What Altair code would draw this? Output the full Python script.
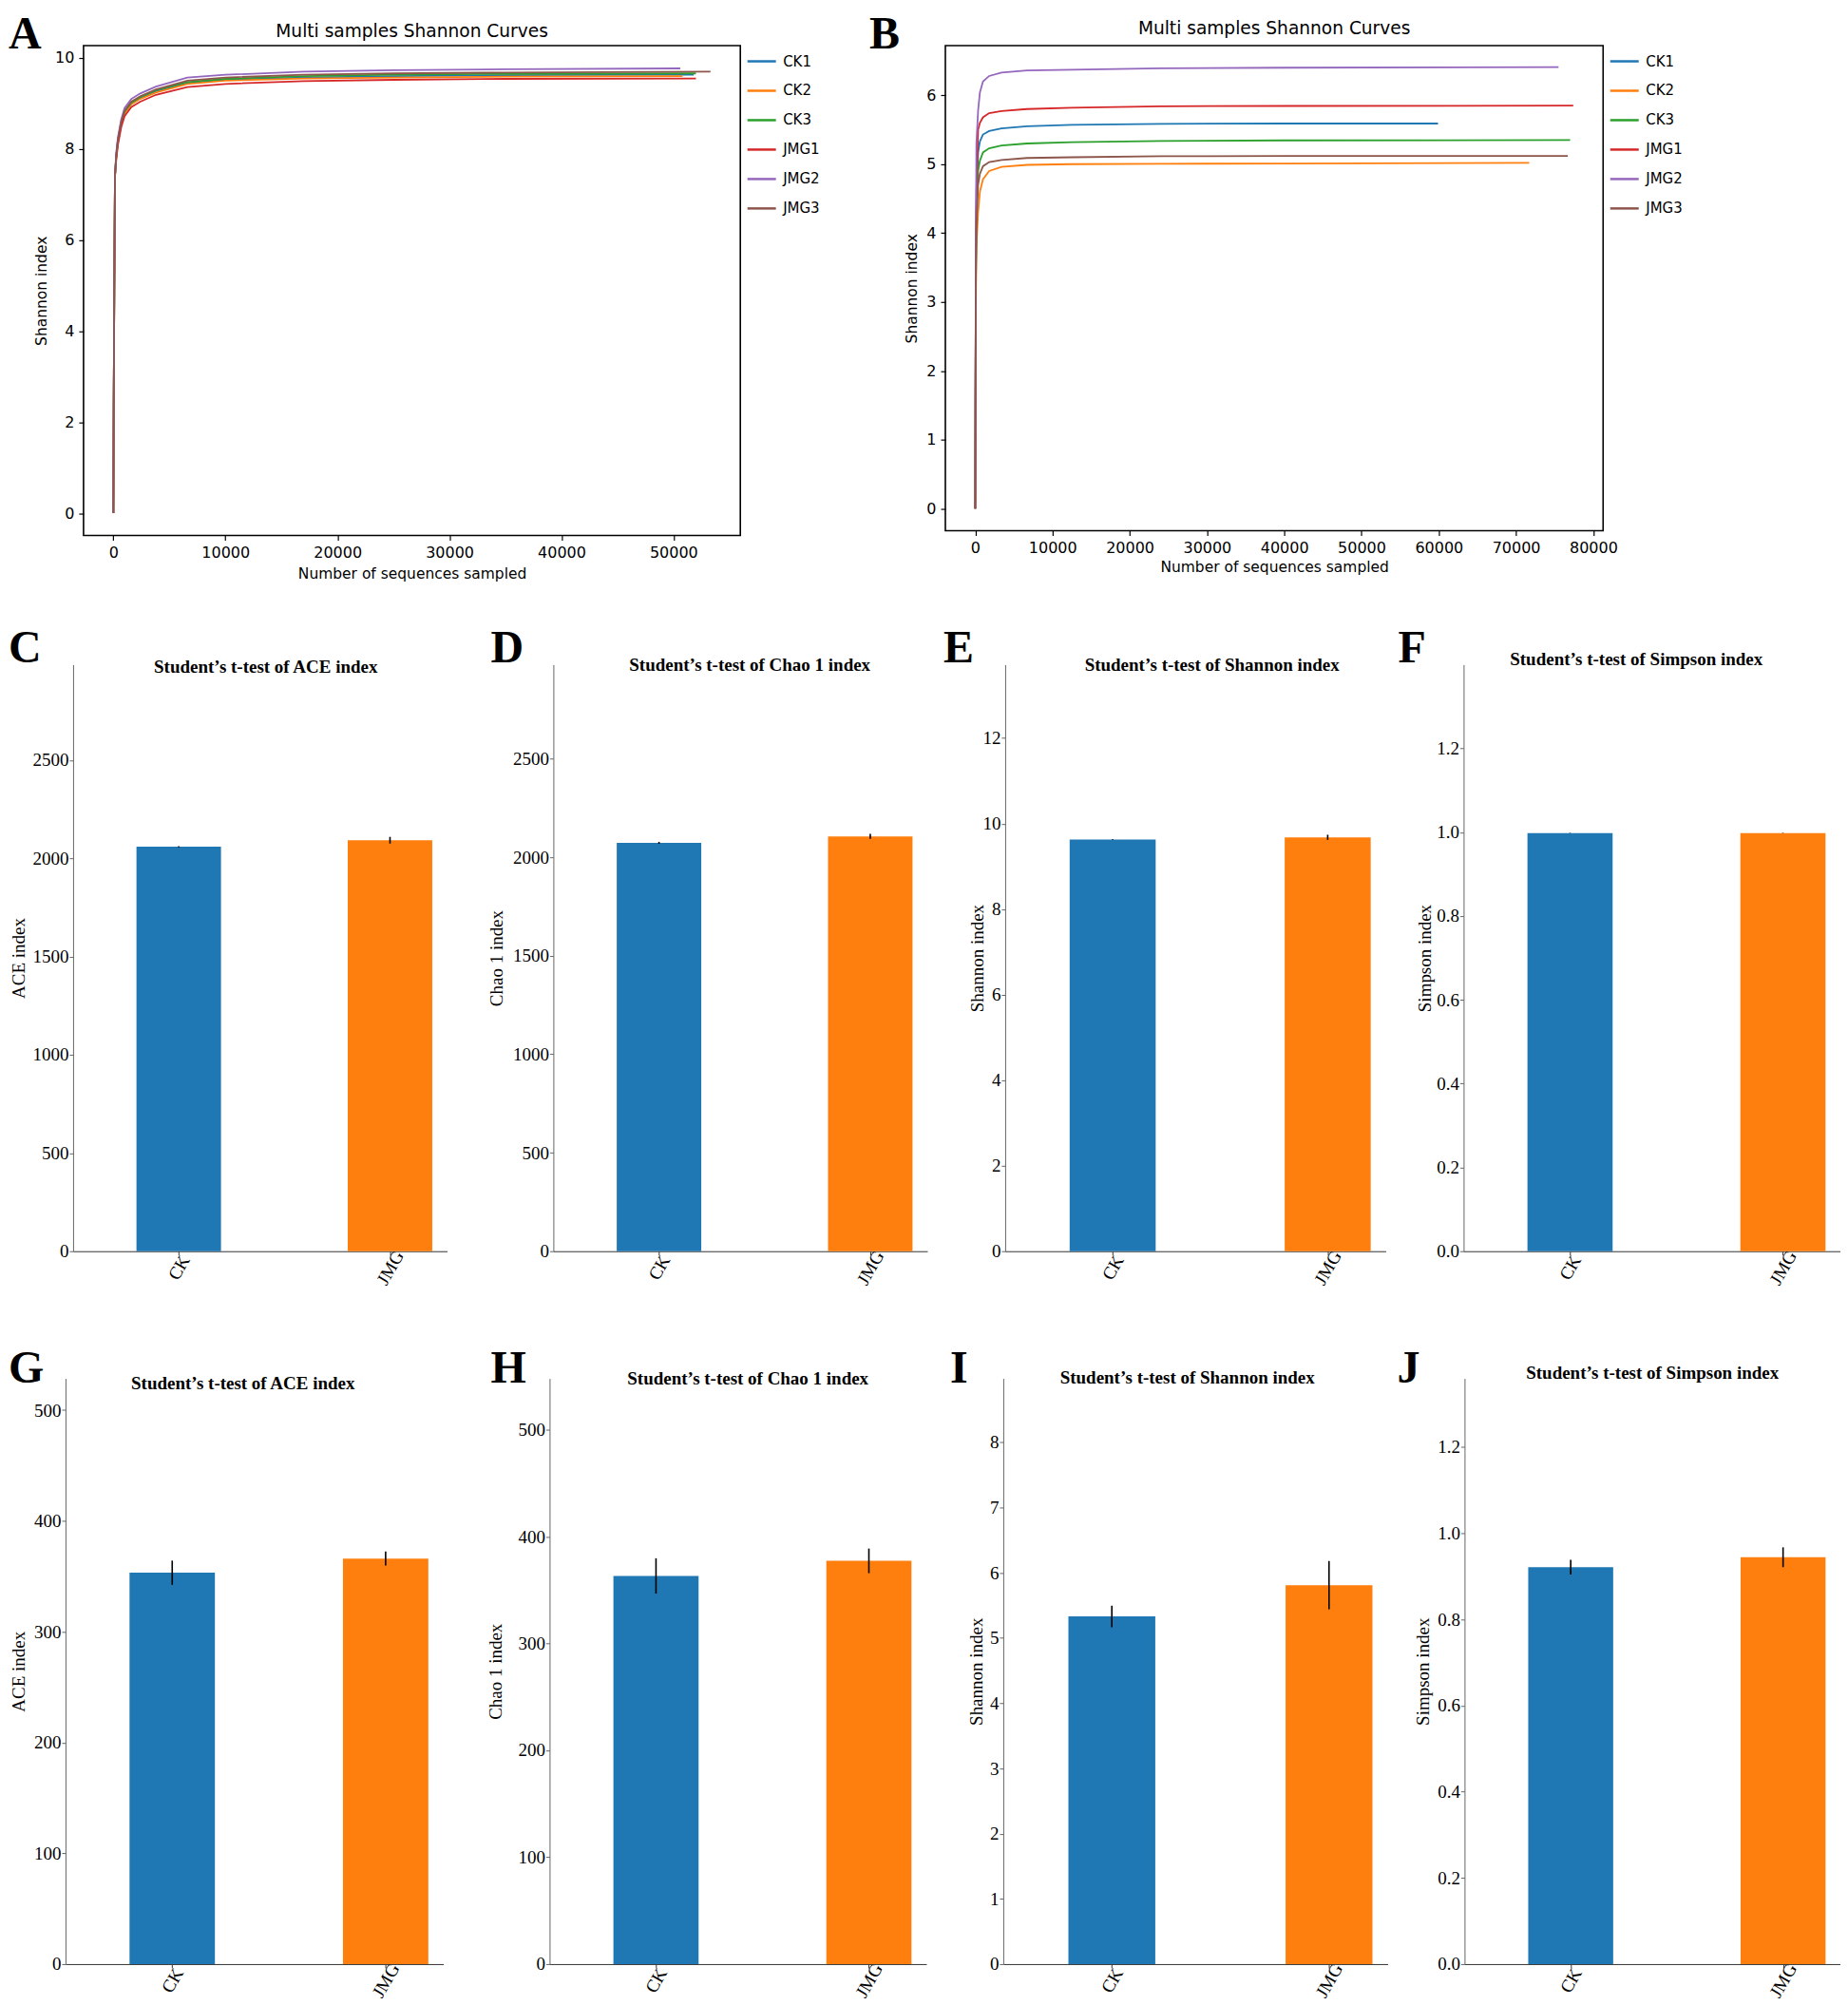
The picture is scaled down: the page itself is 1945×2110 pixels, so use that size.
import json
import altair as alt
import pandas as pd

SANS = "DejaVu Sans"
SERIF = "Liberation Serif"

# ---------------- Shannon rarefaction curves (panels A, B) ----------------
SAMPLES = ["CK1", "CK2", "CK3", "JMG1", "JMG2", "JMG3"]
SAMPLE_COLORS = ["#1f77b4", "#ff7f0e", "#2ca02c", "#d62728", "#9467bd", "#8c564b"]

A_X = [0, 30, 80, 140, 250, 400, 700, 1000, 1600, 2400, 3800, 6600, 10000, 17000, 25000, 35000]
A_END = [51800, 50800, 52000, 52000, 50600, 53300]
A_CK1 = [0, 2.4, 4.9, 7.4, 7.83, 8.16, 8.56, 8.80, 9.00, 9.12, 9.27, 9.45, 9.52, 9.57, 9.60, 9.62, 9.63]
A_CK2 = [0, 2.4, 4.9, 7.4, 7.80, 8.14, 8.54, 8.78, 8.98, 9.10, 9.24, 9.43, 9.50, 9.55, 9.57, 9.59, 9.60]
A_CK3 = [0, 2.4, 4.9, 7.4, 7.85, 8.18, 8.58, 8.82, 9.02, 9.14, 9.29, 9.47, 9.54, 9.60, 9.63, 9.65, 9.66]
A_JMG1 = [0, 2.4, 4.9, 7.4, 7.75, 8.08, 8.48, 8.72, 8.92, 9.04, 9.19, 9.36, 9.43, 9.49, 9.52, 9.54, 9.55]
A_JMG2 = [0, 2.4, 4.9, 7.4, 7.90, 8.25, 8.65, 8.90, 9.10, 9.22, 9.37, 9.57, 9.63, 9.70, 9.73, 9.75, 9.77]
A_JMG3 = [0, 2.4, 4.9, 7.4, 7.85, 8.20, 8.60, 8.84, 9.04, 9.16, 9.31, 9.50, 9.57, 9.63, 9.66, 9.68, 9.70]

B_X = [0, 30, 80, 150, 370, 600, 1000, 1800, 3400, 6700, 12500, 24000, 40000]
B_END = [59900, 71700, 77000, 77400, 75500, 76700]
B_CK1 = [0, 1.5, 3.5, 4.4, 5.17, 5.33, 5.43, 5.48, 5.52, 5.55, 5.57, 5.585, 5.59, 5.59]
B_CK2 = [0, 1.3, 3.0, 3.8, 4.30, 4.60, 4.78, 4.90, 4.96, 4.99, 5.00, 5.005, 5.01, 5.02]
B_CK3 = [0, 1.5, 3.4, 4.3, 4.90, 5.05, 5.17, 5.23, 5.27, 5.30, 5.32, 5.335, 5.345, 5.35]
B_JMG1 = [0, 1.6, 3.6, 4.6, 5.50, 5.60, 5.68, 5.74, 5.77, 5.80, 5.82, 5.84, 5.845, 5.85]
B_JMG2 = [0, 1.8, 3.8, 5.3, 5.78, 6.04, 6.20, 6.28, 6.33, 6.36, 6.37, 6.39, 6.40, 6.41]
B_JMG3 = [0, 1.4, 3.3, 4.1, 4.70, 4.86, 4.97, 5.03, 5.06, 5.09, 5.10, 5.115, 5.12, 5.12]

A_XTICKS = [0, 10000, 20000, 30000, 40000, 50000]
A_YTICKS = [0, 2, 4, 6, 8, 10]
B_XTICKS = [0, 10000, 20000, 30000, 40000, 50000, 60000, 70000, 80000]
B_YTICKS = [0, 1, 2, 3, 4, 5, 6]
CURVE_TITLE = "Multi samples Shannon Curves"
CURVE_XTITLE = "Number of sequences sampled"
CURVE_YTITLE = "Shannon index"

# ---------------- t-test bar panels (C-J) ----------------
GROUPS = ["CK", "JMG"]
BAR_COLORS = ["#1f77b4", "#ff7f0e"]

C_VAL = [2059, 2092]
C_ERR = [3, 17]
D_VAL = [2073, 2106]
D_ERR = [5, 13]
E_VAL = [9.63, 9.68]
E_ERR = [0.01, 0.06]
F_VAL = [0.998, 0.998]
F_ERR = [0.0005, 0.0005]
G_VAL = [353.3, 366.1]
G_ERR = [10.9, 6.4]
H_VAL = [363.2, 377.3]
H_ERR = [16.5, 11.5]
I_VAL = [5.33, 5.81]
I_ERR = [0.165, 0.37]
J_VAL = [0.921, 0.944]
J_ERR = [0.017, 0.023]

TICKS_BIG = [0, 500, 1000, 1500, 2000, 2500]
TICKS_E = [0, 2, 4, 6, 8, 10, 12]
TICKS_SIMPSON = [0.0, 0.2, 0.4, 0.6, 0.8, 1.0, 1.2]
TICKS_G = [0, 100, 200, 300, 400, 500]
TICKS_I = [0, 1, 2, 3, 4, 5, 6, 7, 8]

T_ACE = "Student\u2019s t-test of ACE index"
T_CHAO = "Student\u2019s t-test of Chao 1 index"
T_SHAN = "Student\u2019s t-test of Shannon index"
T_SIMP = "Student\u2019s t-test of Simpson index"


def text_layer(txt, dx, dy, size, weight, font, align="left"):
    return alt.Chart(pd.DataFrame({"t": [txt]})).mark_text(
        font=font, fontSize=size, fontWeight=weight, align=align,
        baseline="alphabetic", color="black"
    ).encode(text="t:N", x=alt.value(dx), y=alt.value(dy))


def curve_panel(xs_base, ends, ys_list, xdom, ydom, xticks, yticks, W, H, cfg):
    rows = []
    for s, end, ys in zip(SAMPLES, ends, ys_list):
        for x, y in zip(xs_base + [end], ys):
            rows.append({"sample": s, "x": x, "y": y})
    df = pd.DataFrame(rows)
    common = dict(labelFont=SANS, labelFontSize=16, labelColor="black",
                  titleFont=SANS, titleFontSize=15.5, titleFontWeight="normal",
                  titleColor="black", domain=False, grid=False, tickColor="black",
                  tickSize=5, tickWidth=1.2, labelPadding=5)
    lines = alt.Chart(df).mark_line(strokeWidth=1.8).encode(
        x=alt.X("x:Q", scale=alt.Scale(domain=xdom, nice=False, zero=False),
                axis=alt.Axis(values=xticks, format="d", title=CURVE_XTITLE,
                              titleX=W / 2, titleY=cfg["xty"], titleAlign="center",
                              titleBaseline="middle", **common)),
        y=alt.Y("y:Q", scale=alt.Scale(domain=ydom, nice=False, zero=False),
                axis=alt.Axis(values=yticks, format="d", title=CURVE_YTITLE,
                              titleX=cfg["ytx"], titleY=H / 2, titleAngle=270,
                              titleAlign="center", titleBaseline="middle", **common)),
        color=alt.Color("sample:N", scale=alt.Scale(domain=SAMPLES, range=SAMPLE_COLORS),
                        legend=alt.Legend(title=None, orient="right", offset=6, padding=0,
                                          symbolType="stroke", symbolSize=900,
                                          symbolStrokeWidth=2.5, labelFont=SANS,
                                          labelFontSize=15, labelColor="black",
                                          labelOffset=6, rowPadding=6)),
    )
    letter = text_layer(cfg["letter"], cfg["lx"], cfg["ly"], 48, "bold", SERIF)
    title = text_layer(CURVE_TITLE, W / 2, cfg["ty"], 18.6, "normal", SANS, align="center")
    return alt.layer(lines, letter, title).properties(
        width=W, height=H, view=alt.ViewBackground(stroke="black", strokeWidth=1.6))


def bar_panel(vals, errs, top, ticks, fmt, ytitle, title, cfg, H):
    s = cfg.get("shift", 0)
    df = pd.DataFrame({"group": GROUPS, "value": vals, "err": errs})
    base = alt.Chart(df).transform_calculate(
        pos=f"indexof({json.dumps(GROUPS)}, datum.group)"
    ).transform_calculate(
        lo="datum.pos - 0.2", hi="datum.pos + 0.2",
        elo="datum.value - datum.err", ehi="datum.value + datum.err")
    xscale = alt.Scale(domain=[-0.5, 1.27], range=[-s, cfg["rng"] - s], nice=False, zero=False)
    yscale = alt.Scale(domain=[0, top], nice=False)
    xaxis = alt.Axis(values=[0, 1], labelExpr=f"{json.dumps(GROUPS)}[datum.value]",
                     title=None, labelAngle=300, labelAlign="center",
                     labelBaseline="middle", labelPadding=13, tickSize=4,
                     labelFont=SERIF, labelFontSize=19, labelColor="black",
                     domainColor="#333", tickColor="#333", grid=False)
    yaxis = alt.Axis(values=ticks, format=fmt, title=ytitle, titleX=cfg["ytx"],
                     titleY=H / 2, titleAngle=270, titleAlign="center",
                     titleBaseline="middle", titleFont=SERIF, titleFontSize=19,
                     titleFontWeight="normal", titleColor="black", labelFont=SERIF,
                     labelFontSize=19, labelColor="black", labelPadding=1, tickSize=4,
                     domainColor="#666", tickColor="#666", grid=False, offset=s)
    bars = base.mark_bar().encode(
        x=alt.X("lo:Q", scale=xscale, axis=xaxis), x2="hi:Q",
        y=alt.Y("value:Q", scale=yscale, axis=yaxis), y2=alt.datum(0),
        color=alt.Color("group:N", scale=alt.Scale(domain=GROUPS, range=BAR_COLORS), legend=None),
    )
    ebar = base.mark_rule(color="black", strokeWidth=1.6).encode(
        x="pos:Q", y="elo:Q", y2="ehi:Q")
    letter = text_layer(cfg["letter"], cfg["lx"] - s, cfg["ly"], 48, "bold", SERIF)
    ttl = text_layer(title, cfg["tx"] - s, cfg["ty"], 19, "bold", SERIF, align="center")
    return alt.layer(bars, ebar, letter, ttl).properties(width=cfg["w"] - s, height=H)


A = curve_panel(A_X, A_END, [A_CK1, A_CK2, A_CK3, A_JMG1, A_JMG2, A_JMG3],
                [-2665, 55965], [-0.49, 10.27], A_XTICKS, A_YTICKS, 692, 516,
                dict(letter="A", lx=-79, ly=3, ty=-9, xty=40, ytx=-44))
B = curve_panel(B_X, B_END, [B_CK1, B_CK2, B_CK3, B_JMG1, B_JMG2, B_JMG3],
                [-3870, 81270], [-0.32, 6.72], B_XTICKS, B_YTICKS, 693, 511,
                dict(letter="B", lx=-80, ly=3, ty=-12, xty=38, ytx=-36))

H2 = 618
H3 = 617
C = bar_panel(C_VAL, C_ERR, 2986, TICKS_BIG, "d", "ACE index", T_ACE,
              dict(letter="C", lx=-68, ly=-2, tx=203, ty=9, ytx=-57, w=424, rng=394, shift=11), H2)
D = bar_panel(D_VAL, D_ERR, 2978, TICKS_BIG, "d", "Chao 1 index", T_CHAO,
              dict(letter="D", lx=-66, ly=-2, tx=207, ty=7, ytx=-60, w=394, rng=394), H2)
E = bar_panel(E_VAL, E_ERR, 13.72, TICKS_E, "d", "Shannon index", T_SHAN,
              dict(letter="E", lx=-65, ly=-2, tx=218, ty=7, ytx=-29, w=401, rng=401), H2)
F = bar_panel(F_VAL, F_ERR, 1.40, TICKS_SIMPSON, ".1f", "Simpson index", T_SIMP,
              dict(letter="F", lx=-69, ly=-2, tx=182, ty=1, ytx=-41, w=397, rng=397), H2)
G = bar_panel(G_VAL, G_ERR, 528.7, TICKS_G, "d", "ACE index", T_ACE,
              dict(letter="G", lx=-60, ly=4, tx=187, ty=11, ytx=-49, w=429, rng=398, shift=19), H3)
Hh = bar_panel(H_VAL, H_ERR, 548, TICKS_G, "d", "Chao 1 index", T_CHAO,
               dict(letter="H", lx=-62, ly=4, tx=209, ty=6, ytx=-57, w=397, rng=397), H3)
I = bar_panel(I_VAL, I_ERR, 8.98, TICKS_I, "d", "Shannon index", T_SHAN,
              dict(letter="I", lx=-56, ly=4, tx=194, ty=5, ytx=-28, w=405, rng=405), H3)
J = bar_panel(J_VAL, J_ERR, 1.359, TICKS_SIMPSON, ".1f", "Simpson index", T_SIMP,
              dict(letter="J", lx=-71, ly=4, tx=198, ty=0, ytx=-44, w=396, rng=396), H3)

row1 = alt.hconcat(A, B, spacing=216, bounds="flush").resolve_scale(
    x="independent", y="independent", color="independent").resolve_legend(color="independent")
row2 = alt.hconcat(C, D, E, F, spacing=82, bounds="flush").resolve_scale(
    x="independent", y="independent")
row3 = alt.hconcat(G, Hh, I, J, spacing=81, bounds="flush").resolve_scale(
    x="independent", y="independent")

lower = alt.vconcat(row2, row3, spacing=61).resolve_scale(x="independent", y="independent")
chart = alt.vconcat(row1, lower, spacing=46).resolve_scale(
    x="independent", y="independent", color="independent").properties(
    padding={"left": 0, "top": 3, "right": 0, "bottom": 0},
    background="white").configure_view(strokeWidth=0)

chart.save("out.html", embed_options={"renderer": "svg", "actions": False})
